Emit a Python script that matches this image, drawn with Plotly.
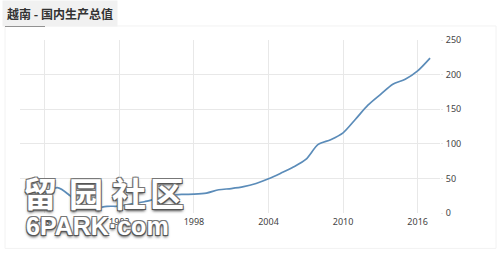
import plotly.graph_objects as go

years = list(range(1985, 2018))
gdp = [14.1, 26.3, 36.7, 25.4, 6.3, 6.5, 9.6, 9.9, 13.2, 16.3, 20.7, 24.7, 26.8,
       27.2, 28.7, 33.6, 35.3, 38.0, 42.7, 49.4, 57.6, 66.4, 77.4, 99.1, 106.0,
       115.9, 135.5, 155.8, 171.2, 186.2, 193.2, 205.3, 223.8]
x_ticks = [1986, 1992, 1998, 2004, 2010, 2016]
y_ticks = [0, 50, 100, 150, 200, 250]
title_text = "越南 - 国内生产总值"
wm_chars = ["留", "园", "社", "区"]
wm_latin = "6PARK·com"

W, H = 500, 254
L, R, T, B = 20, 440, 40, 212.7


def px(x):
    return (x - L) / (R - L)


def py(y):
    return (B - y) / (B - T)


fig = go.Figure()
fig.add_trace(go.Scatter(
    x=years, y=gdp, mode="lines",
    line=dict(color="#5b8cb9", width=1.7, shape="spline", smoothing=0.8),
    hoverinfo="skip", showlegend=False,
))

fig.update_layout(
    width=W, height=H,
    margin=dict(l=L, r=W - R, t=T, b=H - B, pad=0),
    paper_bgcolor="white", plot_bgcolor="white",
    xaxis=dict(
        range=[1984, 2017.8], tickvals=x_ticks, ticktext=[str(v) for v in x_ticks],
        showgrid=True, gridcolor="#e8e8e8", gridwidth=1, zeroline=False,
        showline=False, ticks="", tickfont=dict(family="Noto Sans", size=9, color="#444"),
        ticklabelstandoff=2,
    ),
    yaxis=dict(
        range=[0, 250], tickvals=y_ticks, side="right",
        showgrid=True, gridcolor="#e8e8e8", gridwidth=1, zeroline=False,
        showline=False, ticks="outside", ticklen=2, tickcolor="#e8e8e8",
        tickfont=dict(family="Noto Sans", size=9, color="#444"),
        ticklabelstandoff=1,
    ),
)

# frame and title underline
fig.add_shape(type="rect", xref="paper", yref="paper",
              x0=px(5), x1=px(496), y0=py(248), y1=py(26),
              line=dict(color="#f2f2f2", width=1), layer="below")
fig.add_shape(type="line", xref="paper", yref="paper",
              x0=px(5), x1=px(45), y0=py(26), y1=py(26),
              line=dict(color="#333", width=2))

fig.add_annotation(
    xref="paper", yref="paper", x=px(2), y=py(0), xanchor="left", yanchor="top",
    text="<b>" + title_text + "</b>", showarrow=False,
    font=dict(family="Noto Sans CJK SC", size=12, color="#333"),
    bgcolor="#f1f1f1", borderpad=4,
)

shadow = "-1px -1px 0 #777, 1px -1px 0 #777, -1px 1px 0 #555, 1px 1px 0 #555, 0 2px 3px #444"
for ch, cx in zip(wm_chars, [40, 86, 129, 167]):
    fig.add_annotation(
        xref="paper", yref="paper", x=px(cx), y=py(192), xanchor="center", yanchor="middle",
        text="<b>" + ch + "</b>", showarrow=False,
        font=dict(family="Noto Sans CJK SC", size=34, color="white", shadow=shadow),
    )
fig.add_annotation(
    xref="paper", yref="paper", x=px(97), y=py(226), xanchor="center", yanchor="middle",
    text="<b>" + wm_latin + "</b>", showarrow=False,
    font=dict(family="Liberation Sans", size=25, color="white", shadow=shadow),
)

fig.write_html("out.html")
